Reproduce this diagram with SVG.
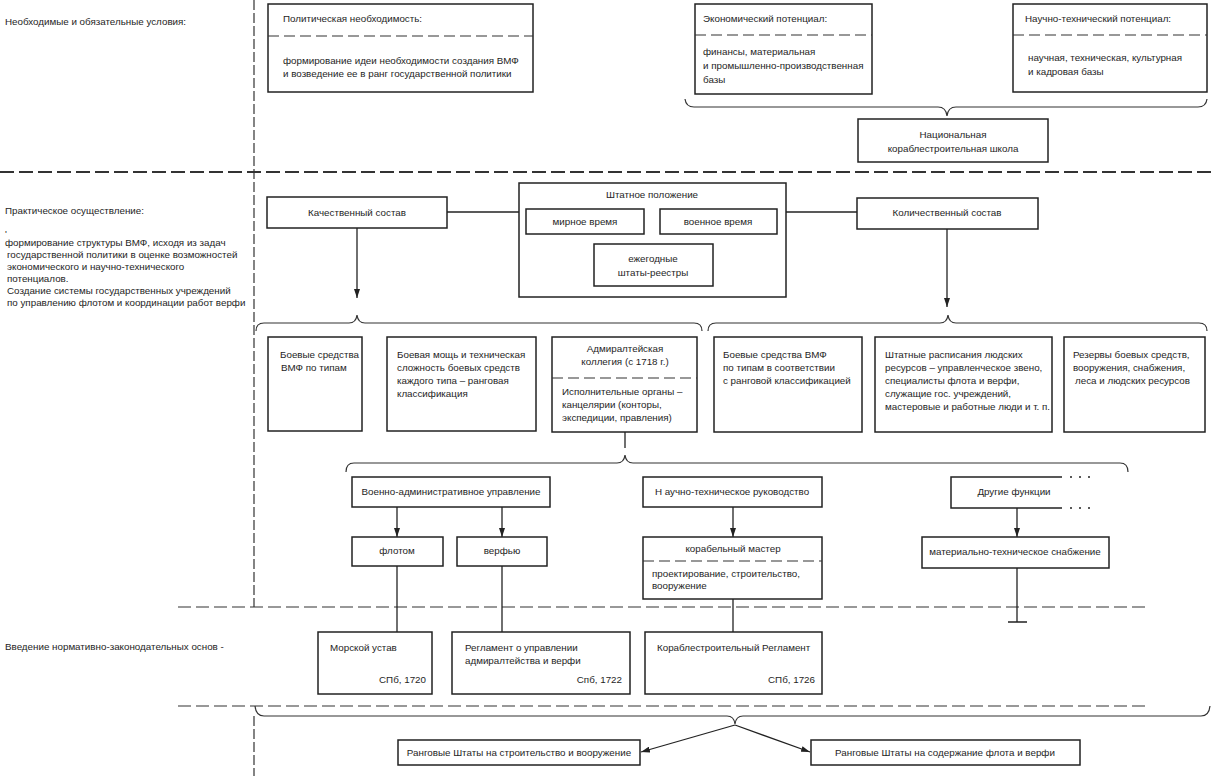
<svg xmlns="http://www.w3.org/2000/svg" width="1217" height="776" viewBox="0 0 1217 776">
<style>
text{font-family:"Liberation Sans",Arial,sans-serif;font-size:9.8px;fill:#1e1e1e}
.c{text-anchor:middle}
.e{text-anchor:end}
.box{fill:#fff;stroke:#222;stroke-width:1.5}
.sep{fill:none;stroke:#333;stroke-width:1.2;stroke-dasharray:11 5}
.ln{fill:none;stroke:#222;stroke-width:1.3}
.ar{fill:none;stroke:#222;stroke-width:1.3;marker-end:url(#ah)}
.br{fill:none;stroke:#333;stroke-width:1.2}
.dh{fill:none;stroke:#333;stroke-width:1.2;stroke-dasharray:13 5}
.dv{fill:none;stroke:#333;stroke-width:1.2;stroke-dasharray:10 3}
</style>
<defs>
<marker id="ah" markerUnits="userSpaceOnUse" markerWidth="10" markerHeight="6" refX="9" refY="3" orient="auto">
<path d="M0,0 L9,3 L0,6 z" fill="#222"/>
</marker>
</defs>
<rect width="1217" height="776" fill="#fff"/>

<g id="dividers">
<path class="dh" d="M0,172 H1212" style="stroke-width:2.2;stroke-dasharray:14 5"/>
<path class="dh" d="M178,607 H1146"/>
<path class="dh" d="M178,706 H1148"/>
<path class="dv" d="M254,0 V607"/>
<path class="dv" d="M254,716 V776"/>
</g>

<g id="labels">
<text x="5" y="25">Необходимые и обязательные условия:</text>
<text x="5" y="214">Практическое осуществление:</text>
<text x="5" y="237">'</text>
<text x="5" y="245.5">формирование структуры ВМФ, исходя из задач</text>
<text x="7" y="257.5">государственной политики в оценке возможностей</text>
<text x="7" y="269.5">экономического и научно-технического</text>
<text x="7" y="281.5">потенциалов.</text>
<text x="7" y="293.5">Создание системы государственных учреждений</text>
<text x="7" y="305.5">по управлению флотом и координации работ верфи</text>
<text x="5" y="650">Введение нормативно-законодательных основ -</text>
</g>

<g id="connectors">
<path class="br" d="M685,99 Q686,107 694,107 H938 Q946,107 947,116 Q948,107 956,107 H1198 Q1206,107 1207,99"/>
<path class="ln" d="M447,212 H519"/>
<path class="ln" d="M786,212 H857"/>
<path class="ln" d="M559,234 V266 H594"/>
<path class="ln" d="M748,234 V266 H713"/>
<path class="ar" d="M357,228 V298"/>
<path class="ar" d="M947,229 V307"/>
<path class="br" d="M256,331 Q256,323 264,323 H349 Q356,323 357,315 Q358,323 365,323 H694 Q702,323 702,331"/>
<path class="br" d="M708,331 Q708,323 716,323 H940 Q947,323 948,315 Q949,323 956,323 H1199 Q1207,323 1207,331"/>
<path class="ln" d="M625,432 V448"/>
<path class="br" d="M346,472 Q346,463 354,463 H617 Q624,463 625,455 Q626,463 633,463 H1120 Q1128,463 1128,472"/>
<path class="ar" d="M397,507 V537"/>
<path class="ar" d="M502,507 V537"/>
<path class="ar" d="M733,507 V537"/>
<path class="ar" d="M1017,508 V537"/>
<path class="ln" d="M1017,568 V622 M1008,622 H1027"/>
<path class="ln" d="M397,566 V632"/>
<path class="ln" d="M502,566 V632"/>
<path class="ln" d="M733,599 V632"/>
<path class="br" d="M255,706 Q256,716 264,716 H727 Q734,716 735,724 Q736,716 743,716 H1201 Q1209,716 1210,706"/>
<path class="ar" d="M735,725 L641,752"/>
<path class="ar" d="M735,725 L810,752"/>
</g>

<g id="n-polit">
<rect class="box" x="268" y="4" width="265" height="88"/>
<path class="sep" d="M268,36 H533"/>
<text x="283" y="22">Политическая необходимость:</text>
<text x="283" y="64">формирование идеи необходимости создания ВМФ</text>
<text x="283" y="77">и возведение ее в ранг государственной политики</text>
</g>

<g id="n-econ">
<rect class="box" x="695" y="4" width="177" height="90"/>
<path class="sep" d="M695,35 H872"/>
<text x="703" y="22">Экономический потенциал:</text>
<text x="703" y="55">финансы, материальная</text>
<text x="703" y="69">и промышленно-производственная</text>
<text x="703" y="83">базы</text>
</g>

<g id="n-sci">
<rect class="box" x="1013" y="4" width="194" height="88"/>
<path class="sep" d="M1013,35 H1207"/>
<text x="1025" y="22">Научно-технический потенциал:</text>
<text x="1028" y="61">научная, техническая, культурная</text>
<text x="1028" y="75">и кадровая базы</text>
</g>

<g id="n-school">
<rect class="box" x="858" y="119" width="190" height="43"/>
<text class="c" x="953" y="138">Национальная</text>
<text class="c" x="953" y="152">кораблестроительная школа</text>
</g>

<g id="n-qual">
<rect class="box" x="267" y="197" width="180" height="31"/>
<text class="c" x="357" y="216">Качественный состав</text>
</g>

<g id="n-shtat">
<rect class="box" x="519" y="183" width="267" height="114"/>
<text class="c" x="652" y="198">Штатное положение</text>
</g>
<g id="n-peace">
<rect class="box" x="526" y="209" width="118" height="25"/>
<text class="c" x="585" y="225">мирное время</text>
</g>
<g id="n-war">
<rect class="box" x="660" y="209" width="117" height="25"/>
<text class="c" x="718" y="225">военное время</text>
</g>
<g id="n-annual">
<rect class="box" x="594" y="244" width="119" height="42"/>
<text class="c" x="653" y="262">ежегодные</text>
<text class="c" x="653" y="276">штаты-реестры</text>
</g>

<g id="n-quant">
<rect class="box" x="857" y="198" width="181" height="31"/>
<text class="c" x="947" y="216">Количественный состав</text>
</g>

<g id="n-types">
<rect class="box" x="268" y="337" width="94" height="94"/>
<text x="280" y="358">Боевые средства</text>
<text x="281" y="371">ВМФ по типам</text>
</g>

<g id="n-power">
<rect class="box" x="387" y="337" width="149" height="94"/>
<text x="397" y="358">Боевая мощь и техническая</text>
<text x="397" y="371">сложность боевых средств</text>
<text x="397" y="384">каждого типа – ранговая</text>
<text x="397" y="397">классификация</text>
</g>

<g id="n-admiralty">
<rect class="box" x="552" y="337" width="145" height="95"/>
<path class="sep" d="M552,378 H697"/>
<text class="c" x="625" y="352">Адмиралтейская</text>
<text class="c" x="625" y="365">коллегия (с 1718 г.)</text>
<text x="562" y="395">Исполнительные органы –</text>
<text x="562" y="408">канцелярии (конторы,</text>
<text x="562" y="421">экспедиции, правления)</text>
</g>

<g id="n-fleet-types">
<rect class="box" x="714" y="337" width="148" height="95"/>
<text x="723" y="358">Боевые средства ВМФ</text>
<text x="723" y="371">по типам в соответствии</text>
<text x="723" y="384">с ранговой классификацией</text>
</g>

<g id="n-staff">
<rect class="box" x="875" y="337" width="177" height="95"/>
<text x="885" y="358">Штатные расписания людских</text>
<text x="885" y="371">ресурсов – управленческое звено,</text>
<text x="885" y="384">специалисты флота и верфи,</text>
<text x="885" y="397">служащие гос. учреждений,</text>
<text x="885" y="410">мастеровые и работные люди и т. п.</text>
</g>

<g id="n-reserves">
<rect class="box" x="1064" y="337" width="141" height="95"/>
<text x="1073" y="358">Резервы боевых средств,</text>
<text x="1073" y="371">вооружения, снабжения,</text>
<text x="1075" y="384">леса и людских ресурсов</text>
</g>

<g id="n-milad">
<rect class="box" x="352" y="477" width="198" height="30"/>
<text class="c" x="451" y="495">Военно-административное управление</text>
</g>
<g id="n-flot">
<rect class="box" x="352" y="537" width="91" height="29"/>
<text class="c" x="397" y="554">флотом</text>
</g>
<g id="n-verf">
<rect class="box" x="457" y="537" width="90" height="29"/>
<text class="c" x="502" y="554">верфью</text>
</g>

<g id="n-scitech">
<rect class="box" x="643" y="477" width="179" height="30"/>
<text class="c" x="732" y="495">Н аучно-техническое руководство</text>
</g>
<g id="n-master">
<rect class="box" x="643" y="537" width="179" height="62"/>
<path class="sep" d="M643,561 H822"/>
<text class="c" x="733" y="552">корабельный мастер</text>
<text x="652" y="577">проектирование, строительство,</text>
<text x="652" y="589">вооружение</text>
</g>

<g id="n-other">
<path class="box" style="fill:none" d="M1062,477 H951 V508 H1062"/>
<circle cx="1071" cy="477" r="1" fill="#222"/>
<circle cx="1080" cy="477" r="1" fill="#222"/>
<circle cx="1089" cy="477" r="1" fill="#222"/>
<circle cx="1071" cy="508" r="1" fill="#222"/>
<circle cx="1080" cy="508" r="1" fill="#222"/>
<circle cx="1089" cy="508" r="1" fill="#222"/>
<text class="c" x="1014" y="495">Другие функции</text>
</g>
<g id="n-supply">
<rect class="box" x="922" y="537" width="187" height="31"/>
<text class="c" x="1015" y="555">материально-техническое снабжение</text>
</g>

<g id="n-ustav">
<rect class="box" x="318" y="632" width="114" height="62"/>
<text x="330" y="651">Морской устав</text>
<text class="e" x="426" y="683">СПб, 1720</text>
</g>
<g id="n-reglament">
<rect class="box" x="452" y="632" width="178" height="62"/>
<text x="465" y="651">Регламент о управлении</text>
<text x="465" y="664">адмиралтейства и верфи</text>
<text class="e" x="622" y="683">Спб, 1722</text>
</g>
<g id="n-shipreg">
<rect class="box" x="645" y="632" width="177" height="62"/>
<text x="657" y="651">Кораблестроительный Регламент</text>
<text class="e" x="815" y="683">СПб, 1726</text>
</g>

<g id="n-rank1">
<rect class="box" x="398" y="740" width="242" height="25"/>
<text class="c" x="519" y="756">Ранговые Штаты на строительство и вооружение</text>
</g>
<g id="n-rank2">
<rect class="box" x="811" y="740" width="269" height="25"/>
<text class="c" x="945" y="756">Ранговые Штаты на содержание флота и верфи</text>
</g>
</svg>
